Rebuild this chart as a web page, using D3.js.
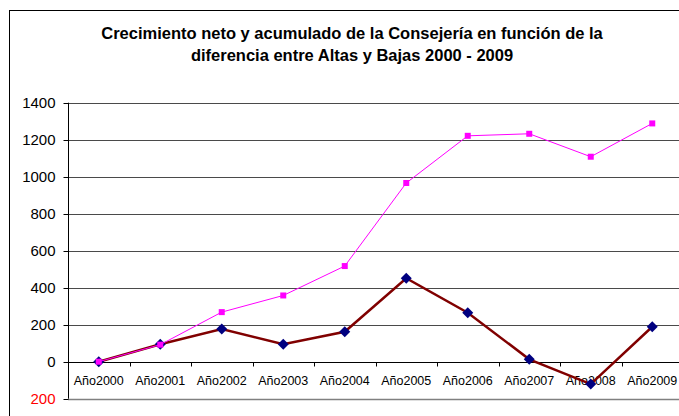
<!DOCTYPE html>
<html>
<head>
<meta charset="utf-8">
<script src="https://cdn.jsdelivr.net/npm/d3@7"></script>
<style>
  body { margin: 0; background: #fff; }
  svg { display: block; font-family: "Liberation Sans", Arial, sans-serif; }
</style>
</head>
<body>
<script>
// data
var years = ["Año2000", "Año2001", "Año2002", "Año2003", "Año2004", "Año2005", "Año2006", "Año2007", "Año2008", "Año2009"];
var neto = [0, 94, 177, 94, 162, 451, 265, 13, -121, 189];
var acumulado = [0, 92, 268, 358, 517, 966, 1221, 1232, 1108, 1288];
var yTicks = [-200, 0, 200, 400, 600, 800, 1000, 1200, 1400];
var titleLines = ["Crecimiento neto y acumulado de la Consejería en función de la", "diferencia entre Altas y Bajas 2000 - 2009"];

var W = 679, H = 416;
var svg = d3.select("body").append("svg").attr("width", W).attr("height", H);

// chart frame (runs off the right and bottom of the picture)
svg.append("rect")
    .attr("x", 9.5).attr("y", 10.5)
    .attr("width", 720).attr("height", 440)
    .attr("fill", "#fff").attr("stroke", "#000").attr("stroke-width", 1);

svg.selectAll("text.title")
    .data(titleLines)
    .enter().append("text")
    .attr("class", "title")
    .attr("x", 352)
    .attr("y", function(d, i) { return 39 + i * 22; })
    .attr("text-anchor", "middle")
    .attr("font-size", "16.5px")
    .attr("font-weight", "bold")
    .text(function(d) { return d; });

var left = 68, right = 683;
var x = d3.scaleBand().domain(years).range([left, right]).padding(0);
var y = d3.scaleLinear().domain([-200, 1400]).range([398.7, 102.7]);
var cx = function(d, i) { return x(years[i]) + x.bandwidth() / 2; };

// gridlines
svg.selectAll("line.grid")
    .data(yTicks.filter(function(t) { return t > 0; }))
    .enter().append("line")
    .attr("class", "grid")
    .attr("x1", left).attr("x2", right)
    .attr("y1", function(d) { return Math.round(y(d)) + 0.5; })
    .attr("y2", function(d) { return Math.round(y(d)) + 0.5; })
    .attr("stroke", "#4a4a4a").attr("stroke-width", 1);

// bottom border of plot area
svg.append("line")
    .attr("x1", left).attr("x2", right)
    .attr("y1", Math.round(y(-200)) + 0.5).attr("y2", Math.round(y(-200)) + 0.5)
    .attr("stroke", "#808080").attr("stroke-width", 1.5);

// value axis
var yAxis = svg.append("g")
    .attr("transform", "translate(" + (left + 0.5) + ",0)")
    .call(d3.axisLeft(y).tickValues(yTicks).tickSize(5).tickPadding(8)
        .tickFormat(function(d) { return Math.abs(d); }));
yAxis.select(".domain").attr("stroke", "#000").attr("d", "M0," + y(1400) + "V" + y(-200));
yAxis.selectAll(".tick line").attr("stroke", "#000");
yAxis.selectAll(".tick text")
    .attr("font-size", "15px")
    .attr("font-family", "Liberation Sans, Arial, sans-serif")
    .attr("fill", function(d) { return d < 0 ? "#ff0000" : "#000"; });
yAxis.selectAll(".tick").attr("transform", function(d) {
    return "translate(0," + (Math.round(y(d)) + 0.5) + ")";
});

// category axis at zero
var y0 = Math.round(y(0)) + 0.5;
svg.append("line")
    .attr("x1", left).attr("x2", right)
    .attr("y1", y0).attr("y2", y0)
    .attr("stroke", "#000").attr("stroke-width", 1);
svg.selectAll("line.xtick")
    .data(years.slice(1))
    .enter().append("line")
    .attr("class", "xtick")
    .attr("x1", function(d) { return Math.round(x(d)) + 0.5; })
    .attr("x2", function(d) { return Math.round(x(d)) + 0.5; })
    .attr("y1", y0).attr("y2", y0 + 4)
    .attr("stroke", "#000");
svg.selectAll("text.xlab")
    .data(years)
    .enter().append("text")
    .attr("class", "xlab")
    .attr("x", function(d) { return x(d) + x.bandwidth() / 2; })
    .attr("y", y0 + 22)
    .attr("text-anchor", "middle")
    .attr("font-size", "12.5px")
    .text(function(d) { return d; });

// net growth series
var line = d3.line().x(cx).y(function(d) { return y(d); });
svg.append("path")
    .datum(neto)
    .attr("d", line)
    .attr("fill", "none")
    .attr("stroke", "#800000")
    .attr("stroke-width", 2.5);
svg.selectAll("path.diamond")
    .data(neto)
    .enter().append("path")
    .attr("class", "diamond")
    .attr("d", function(d, i) {
        var px = cx(d, i), py = y(d), r = 5.5;
        return "M" + px + "," + (py - r) + "L" + (px + r) + "," + py + "L" + px + "," + (py + r) + "L" + (px - r) + "," + py + "Z";
    })
    .attr("fill", "#000080");

// accumulated series
svg.append("path")
    .datum(acumulado)
    .attr("d", line)
    .attr("fill", "none")
    .attr("stroke", "#ff00ff")
    .attr("stroke-width", 1);
svg.selectAll("rect.sq")
    .data(acumulado)
    .enter().append("rect")
    .attr("class", "sq")
    .attr("x", function(d, i) { return cx(d, i) - 3; })
    .attr("y", function(d) { return y(d) - 3; })
    .attr("width", 6).attr("height", 6)
    .attr("fill", "#ff00ff");
</script>
</body>
</html>
